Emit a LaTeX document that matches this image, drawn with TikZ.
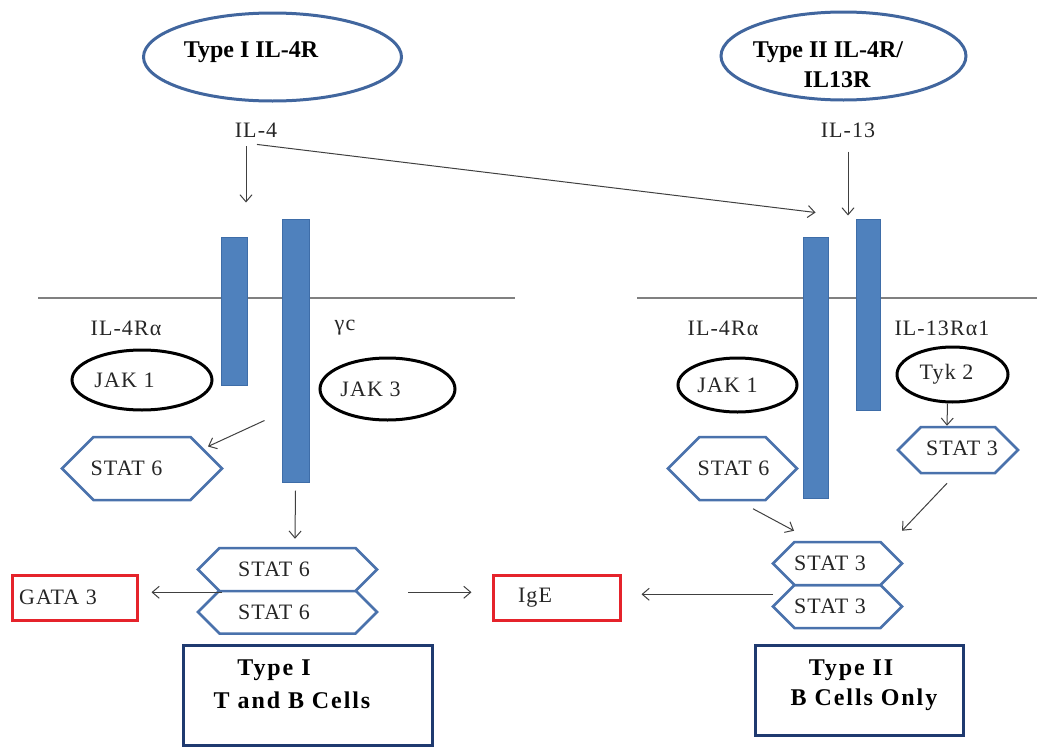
\documentclass[tikz,border=0pt]{standalone}
\usepackage{fontspec}
\setmainfont{Liberation Serif}
\newfontfamily\labfont[LetterSpace=5]{Liberation Serif}
\newfontfamily\boxfont[LetterSpace=8]{Liberation Serif}
\usetikzlibrary{arrows.meta,shapes.geometric,shapes.symbols,calc}
\definecolor{barblue}{HTML}{4F81BD}
\definecolor{baredge}{HTML}{3E6DA8}
\definecolor{ellblue}{HTML}{41669E}
\definecolor{hexblue}{HTML}{4A72AC}
\definecolor{navy}{HTML}{1F3A70}
\definecolor{boxred}{HTML}{E5232B}
\definecolor{arrgray}{HTML}{404040}
\definecolor{memgray}{HTML}{808080}
\newcommand\shtext[2]{\makebox[0pt]{\hspace*{#1}#2}}
\begin{document}
\begin{tikzpicture}[x=1pt,y=-1pt,
  lab/.style={font=\labfont\fontsize{22}{26}\selectfont, text=black!85, inner sep=0pt},
  ttl/.style={font=\bfseries\fontsize{24}{28}\selectfont, text=black, inner sep=0pt},
  bxt/.style={font=\boxfont\bfseries\fontsize{24}{28}\selectfont, text=black, inner sep=0pt},
  titleell/.style={ellipse, draw=ellblue, line width=3pt, inner sep=0pt},
  jak/.style={ellipse, draw=black, line width=3pt, inner sep=0pt, font=\labfont\fontsize{22}{26}\selectfont, text=black!85},
  hex/.style={signal, signal to=east and west, signal pointer angle=90, draw=hexblue, line width=2.5pt, inner sep=0pt, fill=white, font=\labfont\fontsize{22}{26}\selectfont, text=black!85},
  bar/.style={rectangle, draw=baredge, fill=barblue, line width=1pt, inner sep=0pt},
  outbox/.style={rectangle, draw=boxred, line width=3pt, inner sep=0pt, font=\labfont\fontsize{22}{26}\selectfont, text=black!85},
  cellbox/.style={rectangle, draw=navy, line width=3pt, inner sep=0pt},
  arr/.style={draw=arrgray, line width=1pt, -{Straight Barb[length=7pt,width=12pt]}},
  mem/.style={draw=memgray, line width=2pt}]
\useasboundingbox (0,0) rectangle (1037,747);

% receptor titles
\node[titleell, minimum width=258pt, minimum height=88pt] (t1) at (272.5,57) {};
\node[ttl] (t1t) at (251,52) {Type I IL-4R};
\node[titleell, minimum width=245pt, minimum height=88pt] (t2) at (843.5,56) {};
\node[ttl] (t2a) at (828,52) {Type II IL-4R/};
\node[ttl] (t2b) at (837,80) {IL13R};

% ligands
\node[lab] (il4) at (256,130) {IL-4};
\node[lab] (il13) at (848,130) {IL-13};

% membranes
\coordinate (mL1) at (38,298);
\coordinate (mL2) at (515,298);
\coordinate (mR1) at (637,298);
\coordinate (mR2) at (1037,298);
\draw[mem] (mL1) -- (mL2);
\draw[mem] (mR1) -- (mR2);

% receptor chains
\node[bar, minimum width=26pt, minimum height=148pt] (bar1) at (234,311) {};
\node[bar, minimum width=27pt, minimum height=263pt] (bar2) at (295.5,350.5) {};
\node[bar, minimum width=25pt, minimum height=261pt] (bar3) at (815.5,367.5) {};
\node[bar, minimum width=24pt, minimum height=191pt] (bar4) at (868,314.5) {};

% chain labels
\node[lab] (l4ra) at (126,328) {IL-4Rα};
\node[lab] (lgc) at (345,328) {γc};
\node[lab] (r4ra) at (723,328) {IL-4Rα};
\node[lab] (r13ra) at (942,328) {IL-13Rα1};

% kinases
\node[jak, minimum width=140pt, minimum height=60pt] (jak1L) at (142,380) {\shtext{-35pt}{JAK 1}};
\node[jak, minimum width=135pt, minimum height=62pt] (jak3) at (387.5,389) {\shtext{-34pt}{JAK 3}};
\node[jak, minimum width=119pt, minimum height=54pt] (jak1R) at (737.5,385) {\shtext{-20pt}{JAK 1}};
\node[jak, minimum width=111pt, minimum height=55pt] (tyk) at (952.5,374.5) {\raisebox{6pt}{\shtext{-12pt}{Tyk 2}}};

% STATs
\node[hex, minimum width=160pt, minimum height=63pt] (s6L) at (142,468.5) {\shtext{-31pt}{STAT 6}};
\node[hex, minimum width=129pt, minimum height=63pt] (s6R) at (732.5,468.5) {\shtext{2pt}{STAT 6}};
\node[hex, minimum width=120pt, minimum height=46pt] (s3R) at (958,450) {\raisebox{4pt}{\shtext{8pt}{STAT 3}}};
\node[hex, minimum width=179pt, minimum height=43pt] (s6b) at (287.5,612) {\shtext{-27pt}{STAT 6}};
\node[hex, minimum width=179pt, minimum height=43pt] (s6a) at (287.5,569.5) {\shtext{-27pt}{STAT 6}};
\node[hex, minimum width=129pt, minimum height=43pt] (s3b) at (837.5,606.5) {\shtext{-15pt}{STAT 3}};
\node[hex, minimum width=129pt, minimum height=43pt] (s3a) at (837.5,563.5) {\shtext{-15pt}{STAT 3}};

% outputs
\node[outbox, minimum width=125pt, minimum height=45pt] (gata) at (74.5,597.5) {\shtext{-33pt}{GATA 3}};
\node[outbox, minimum width=127pt, minimum height=45pt] (ige) at (556.5,597.5) {\shtext{-43pt}{IgE}};

% cell type boxes
\node[cellbox, minimum width=249pt, minimum height=100pt] (cell1) at (307.5,695) {};
\node[bxt] (cell1a) at (274,670) {Type I};
\node[bxt] (cell1b) at (292,700) {T and B Cells};
\node[cellbox, minimum width=208pt, minimum height=90pt] (cell2) at (859,690) {};
\node[bxt] (cell2a) at (851,670) {Type II};
\node[bxt] (cell2b) at (864,700) {B Cells Only};

% junction points for horizontal connectors
\coordinate (jL) at ($(s6a.south)+(-65.5,0)$);
\coordinate (jM) at ($(s6a.south)+(120.5,0)$);
\coordinate (jR) at ($(s3a.south)+(-64.5,8)$);

% connectors
\draw[arr] ([xshift=-10pt,yshift=-9pt]il4.south) -- ([xshift=12pt,yshift=34pt]bar1.north);
\draw[arr] ([xshift=1pt,yshift=-7pt]il4.south) -- ([yshift=24pt]bar3.north);
\draw[arr] ([yshift=-14pt]il13.south) -- ([xshift=-20pt,yshift=3pt]bar4.north);
\draw[arr] ([xshift=-17pt,yshift=-70pt]bar2.west) -- ([xshift=66pt,yshift=22pt]s6L.center);
\draw[arr] ([yshift=-8pt]bar2.south) -- ([xshift=7.5pt,yshift=8pt]s6a.north);
\draw[arr] (jL) -- ($(jL -| gata.east)+(13,0)$);
\draw[arr] (jM) -- ($(jM -| ige.west)+(-20,0)$);
\draw[arr] (jR) -- ($(jR -| ige.east)+(20,0)$);
\draw[arr] ([xshift=-5pt]tyk.south) -- ([xshift=-11pt]s3R.north);
\draw[arr] ([xshift=20.5pt,yshift=-7.5pt]s6R.south) -- ([xshift=-43.5pt,yshift=10pt]s3a.north);
\draw[arr] ([xshift=-11pt,yshift=-9pt]s3R.south) -- ([xshift=64.5pt,yshift=10pt]s3a.north);
\end{tikzpicture}
\end{document}
